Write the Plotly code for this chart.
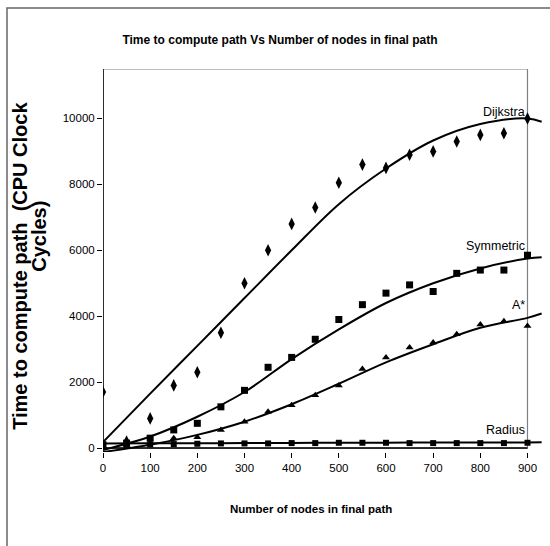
import numpy as np
import plotly.graph_objects as go

# measured data points
nodes = [0, 50, 100, 150, 200, 250, 300, 350, 400, 450, 500, 550, 600, 650, 700, 750, 800, 850, 900]
dijkstra = [1700, 200, 900, 1900, 2300, 3500, 5000, 6000, 6800, 7300, 8050, 8600, 8500, 8900, 9000, 9300, 9500, 9550, 10000]
symmetric = [100, 150, 300, 550, 750, 1250, 1750, 2450, 2750, 3300, 3900, 4350, 4700, 4950, 4750, 5300, 5400, 5400, 5850]
astar = [50, 100, 150, 300, 330, 550, 800, 1100, 1300, 1600, 1900, 2400, 2750, 3050, 3200, 3450, 3750, 3850, 3700]
radius = [60, 90, 110, 120, 130, 140, 140, 140, 150, 150, 160, 160, 160, 150, 150, 150, 150, 150, 160]

# trendline values (smooth polynomial trendlines)
trend_x = [0, 100, 200, 300, 400, 500, 600, 700, 800, 900, 930]
dij_trend = [180, 1650, 3100, 4550, 6000, 7400, 8480, 9330, 9830, 10000, 9900]
sym_trend = [-60, 350, 950, 1700, 2700, 3600, 4400, 5000, 5450, 5750, 5790]
ast_trend = [-120, 100, 400, 800, 1330, 1950, 2600, 3150, 3650, 3950, 4080]
rad_trend = [140, 143, 147, 151, 155, 159, 163, 166, 169, 172, 173]

series_names = ["Dijkstra", "Symmetric", "A*", "Radius"]
x_ticks = [0, 100, 200, 300, 400, 500, 600, 700, 800, 900]
y_ticks = [0, 2000, 4000, 6000, 8000, 10000]

SANS = "Liberation Sans, Arial, sans-serif"

fig = go.Figure()

for ty in [dij_trend, sym_trend, ast_trend, rad_trend]:
    fig.add_trace(go.Scatter(x=trend_x, y=ty, mode="lines",
                             line=dict(color="black", width=2, shape="spline"), showlegend=False,
                             hoverinfo="skip", cliponaxis=False))

fig.add_trace(go.Scatter(x=nodes, y=dijkstra, mode="markers", name="Dijkstra",
                         marker=dict(symbol="diamond-tall", size=9, color="black"), showlegend=False))
fig.add_trace(go.Scatter(x=nodes, y=symmetric, mode="markers", name="Symmetric",
                         marker=dict(symbol="square", size=7, color="black"), showlegend=False))
fig.add_trace(go.Scatter(x=nodes, y=astar, mode="markers", name="A*",
                         marker=dict(symbol="triangle-up", size=7, color="black"), showlegend=False))
fig.add_trace(go.Scatter(x=nodes, y=radius, mode="markers", name="Radius",
                         marker=dict(symbol="square", size=6, color="black"), showlegend=False))

# plot area border
fig.add_shape(type="rect", x0=0, x1=900, y0=0, y1=11500, xref="x", yref="y",
              line=dict(color="#808080", width=1.2), layer="below")
fig.add_shape(type="line", x0=0, x1=900, y0=0, y1=0, xref="x", yref="y",
              line=dict(color="black", width=1.5))
fig.add_shape(type="line", x0=0, x1=0, y0=0, y1=11500, xref="x", yref="y",
              line=dict(color="black", width=1.5))
# outer chart border
fig.add_shape(type="rect", x0=-0.2177, x1=2, y0=-1, y1=1.159, xref="paper", yref="paper",
              line=dict(color="#666666", width=1.5))

label_y = [10200, 6130, 4350, 560]
for name, ly in zip(series_names, label_y):
    fig.add_annotation(x=900, y=ly, text=name, showarrow=False, xanchor="right",
                       yanchor="middle", font=dict(family=SANS, size=12.5, color="black"))

fig.add_annotation(x=0.4717, y=-0.150, xref="paper", yref="paper", showarrow=False,
                   text="<b>Number of nodes in final path</b>", xanchor="center", yanchor="middle",
                   font=dict(family=SANS, size=11.5, color="black"))
fig.add_annotation(x=(20 - 103) / 441, y=0.486, xref="paper", yref="paper", showarrow=False,
                   text="<b>Time to compute path  (CPU Clock</b>", textangle=-90,
                   xanchor="center", yanchor="middle",
                   font=dict(family=SANS, size=20, color="black"))
fig.add_annotation(x=(39 - 103) / 441, y=0.562, xref="paper", yref="paper", showarrow=False,
                   text="<b>Cycles)</b>", textangle=-90,
                   xanchor="center", yanchor="middle",
                   font=dict(family=SANS, size=20, color="black"))

fig.update_layout(
    width=550, height=546,
    margin=dict(l=103, r=6, t=69, b=93.5),
    paper_bgcolor="white", plot_bgcolor="white",
    title=dict(text="<b>Time to compute path Vs Number of nodes in final path</b>",
               x=280 / 550, xanchor="center", y=1 - 40 / 546, yanchor="middle",
               font=dict(family=SANS, size=12, color="black")),
    xaxis=dict(range=[0, 935], tickvals=x_ticks, ticks="outside", ticklen=5,
               tickcolor="black", showgrid=False, zeroline=False, showline=False,
               automargin=False,
               tickfont=dict(family=SANS, size=11.5, color="black")),
    yaxis=dict(range=[-120, 11500], tickvals=y_ticks, tickformat="d", ticks="outside", ticklen=5,
               tickcolor="black", showgrid=False, zeroline=False, showline=False,
               automargin=False,
               tickfont=dict(family=SANS, size=11.5, color="black")),
    showlegend=False,
)

fig.write_html("out.html", config={"displayModeBar": False},
               post_script="document.body.style.margin='0';")
